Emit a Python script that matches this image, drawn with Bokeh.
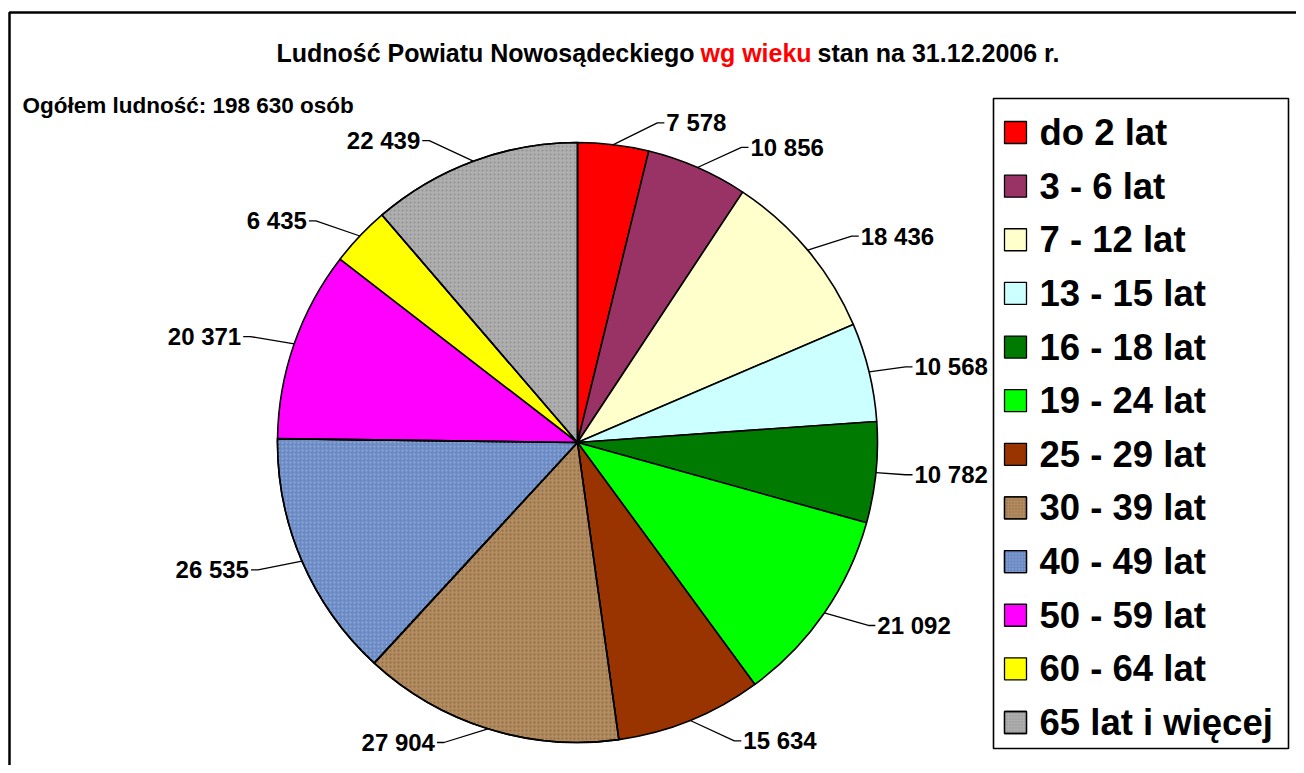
import math
import numpy as np
from bokeh.plotting import figure
from bokeh.models import Range1d, ColumnDataSource
from bokeh.core.properties import value
from bokeh.embed import file_html
from bokeh.resources import INLINE

# ---------------- data ----------------
categories = ["do 2 lat", "3 - 6 lat", "7 - 12 lat", "13 - 15 lat", "16 - 18 lat",
              "19 - 24 lat", "25 - 29 lat", "30 - 39 lat", "40 - 49 lat",
              "50 - 59 lat", "60 - 64 lat", "65 lat i więcej"]
population = [7578, 10856, 18436, 10568, 10782, 21092, 15634, 27904, 26535, 20371, 6435, 22439]
colors = ["#FF0000", "#993366", "#FFFFCC", "#CCFFFF", "#007A00", "#00FF00",
          "#993300", "#B28C60", "#6C8BC5", "#FF00FF", "#FFFF00", "#AEAEAE"]
textured = [False, False, False, False, False, False, False, True, True, False, False, True]
texture_color = ["", "", "", "", "", "", "", "#7E5E38", "#A4BAE2", "", "", "#858585"]
title_parts = ["Ludność Powiatu Nowosądeckiego", "wg wieku", "stan na 31.12.2006 r."]
total_text = "Ogółem ludność: 198 630 osób"

FONT = value("Liberation Sans")

# ---------------- layout (page pixel coordinates) ----------------
W, H = 1296, 765
CX, CY, R = 577, 442, 300
RY = 322          # vertical reach of label anchors
GAP = 44          # horizontal distance of anchors beyond the pie outline
TOP_DY, BOT_DY = -334, 300
MAX_DX = 328      # keep right-side labels clear of the legend box

p = figure(width=W, height=H, output_backend="svg", toolbar_location=None,
           x_range=Range1d(0, W), y_range=Range1d(-H, 0),
           min_border=0, background_fill_color="white", border_fill_color="white")
p.axis.visible = False
p.grid.visible = False
p.outline_line_color = None

# outer chart border
p.quad(left=[9], right=[1330], top=[-12], bottom=[-800], fill_color=None,
       line_color="black", line_width=2.5)

# ---------------- pie ----------------
vals = np.array(population, dtype=float)
cum = np.concatenate([[0], np.cumsum(vals)]) / vals.sum()
start = math.pi / 2 - 2 * math.pi * cum[1:]
end = math.pi / 2 - 2 * math.pi * cum[:-1]

src = ColumnDataSource(dict(start=start, end=end, color=colors, cat=categories))
p.wedge(x=CX, y=-CY, radius=R, start_angle="start", end_angle="end",
        direction="anticlock", fill_color="color", line_color="black",
        line_width=1.6, source=src)

tidx = [i for i, t in enumerate(textured) if t]
tsrc = ColumnDataSource(dict(start=start[tidx], end=end[tidx],
                             tex=[texture_color[i] for i in tidx]))
p.wedge(x=CX, y=-CY, radius=R, start_angle="start", end_angle="end",
        direction="anticlock", fill_alpha=0, line_color="black", line_width=1.6,
        hatch_pattern=".", hatch_color="tex", hatch_scale=4, hatch_weight=1,
        hatch_alpha=0.7, source=tsrc)

# ---------------- value labels with leader lines ----------------
xs, ys, lx, ly, ltxt, lalign = [], [], [], [], [], []
for i, v in enumerate(population):
    th = 2 * math.pi * (cum[i] + cum[i + 1]) / 2
    s, c = math.sin(th), math.cos(th)
    ex, ey = CX + R * s, CY - R * c
    side = 1 if s >= 0 else -1
    dy = min(max(-RY * c, TOP_DY), BOT_DY)
    dx = side * (abs(R * s) + GAP)
    if dx > MAX_DX:
        dx = MAX_DX
    ax, ay = CX + dx, CY + dy
    xs.append([ex, ax, ax + side * 7])
    ys.append([-ey, -ay, -ay])
    lx.append(ax + side * 9)
    ly.append(-ay)
    ltxt.append(f"{v:,}".replace(",", " "))
    lalign.append("left" if side > 0 else "right")

p.multi_line(xs=xs, ys=ys, line_color="black", line_width=1.3)
p.text(x=lx, y=ly, text=ltxt, text_align=lalign, text_baseline="middle",
       text_font=FONT, text_font_style="bold", text_font_size="24px",
       text_color="black")

# ---------------- titles ----------------
p.text(x=[694], y=[-52], text=[title_parts[0]], text_align="right",
       text_baseline="middle", text_font=FONT, text_font_style="bold",
       text_font_size="25px", text_color="black")
p.text(x=[700], y=[-52], text=[title_parts[1]], text_align="left",
       text_baseline="middle", text_font=FONT, text_font_style="bold",
       text_font_size="25px", text_color="#FF0000")
p.text(x=[817], y=[-52], text=[title_parts[2]], text_align="left",
       text_baseline="middle", text_font=FONT, text_font_style="bold",
       text_font_size="25px", text_color="black")
p.text(x=[22], y=[-105], text=[total_text], text_align="left",
       text_baseline="middle", text_font=FONT, text_font_style="bold",
       text_font_size="22.5px", text_color="black")

# ---------------- legend ----------------
LX0, LX1, LY0, LY1 = 993, 1288, 98, 748
p.quad(left=[LX0], right=[LX1], top=[-LY0], bottom=[-LY1], fill_color="white",
       line_color="black", line_width=1.6)
n = len(categories)
row_y = [132 + k * (722 - 132) / (n - 1) for k in range(n)]
sq = 22
leg = ColumnDataSource(dict(l=[1004] * n, r=[1004 + sq] * n,
                            t=[-(y - sq / 2) for y in row_y],
                            b=[-(y + sq / 2) for y in row_y],
                            color=colors, cat=categories,
                            tx=[1039] * n, ty=[-y for y in row_y]))
p.quad(left="l", right="r", top="t", bottom="b", fill_color="color",
       line_color="black", line_width=1.3, source=leg)
lt = [i for i, t in enumerate(textured) if t]
p.quad(left=[1004] * len(lt), right=[1004 + sq] * len(lt),
       top=[-(row_y[i] - sq / 2) for i in lt], bottom=[-(row_y[i] + sq / 2) for i in lt],
       fill_alpha=0, line_color="black", line_width=1.3, hatch_pattern=".",
       hatch_color=[texture_color[i] for i in lt], hatch_scale=3, hatch_alpha=0.7)
p.text(x="tx", y="ty", text="cat", text_align="left", text_baseline="middle",
       text_font=FONT, text_font_style="bold", text_font_size="36.5px",
       text_color="black", source=leg)

open("out.html", "w").write(file_html(p, INLINE))
